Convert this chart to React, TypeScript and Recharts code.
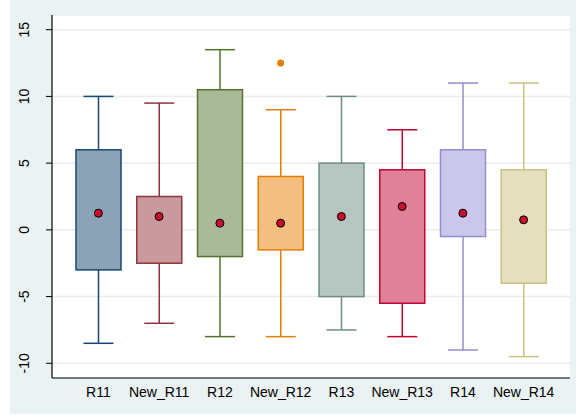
import React from "react";
import {
  ComposedChart,
  Bar,
  Scatter,
  XAxis,
  YAxis,
  CartesianGrid,
} from "recharts";

const categories = ["R11", "New_R11", "R12", "New_R12", "R13", "New_R13", "R14", "New_R14"];
const whiskerLow = [-8.5, -7, -8, -8, -7.5, -8, -9, -9.5];
const q1 = [-3, -2.5, -2, -1.5, -5, -5.5, -0.5, -4];
const q3 = [6, 2.5, 10.5, 4, 5, 4.5, 6, 4.5];
const whiskerHigh = [10, 9.5, 13.5, 9, 10, 7.5, 11, 11];
const means = [1.25, 1, 0.5, 0.5, 1, 1.75, 1.25, 0.75];
const outliers: (number | null)[] = [null, null, null, 12.5, null, null, null, null];
const yTicks = [-10, -5, 0, 5, 10, 15];

const lineColors = ["#1A476F", "#90353B", "#55752F", "#E37E00", "#6E8E84", "#C10534", "#938DD2", "#CAC27E"];
const fillColors = ["#8CA3B7", "#C8999D", "#AAB997", "#F2BF80", "#B7C6C1", "#E0819A", "#CBC7EA", "#E4DFBE"];

const data = categories.map((name, i) => ({
  name,
  box: [q1[i], q3[i]],
  lo: whiskerLow[i],
  hi: whiskerHigh[i],
  q1: q1[i],
  q3: q3[i],
  mean: means[i],
  outlier: outliers[i],
  idx: i,
}));

const FONT = "'Liberation Sans', Arial, sans-serif";

const BoxShape = (props: any) => {
  const { x, y, width, height, payload } = props;
  const top = Math.min(y, y + height);
  const h = Math.abs(height);
  const ppu = h / (payload.q3 - payload.q1);
  const yHi = top - (payload.hi - payload.q3) * ppu;
  const yLo = top + h + (payload.q1 - payload.lo) * ppu;
  const cx = x + width / 2;
  const cap = 15;
  const col = lineColors[payload.idx];
  return (
    <g>
      <line x1={cx} x2={cx} y1={yHi} y2={top} stroke={col} strokeWidth={1.5} />
      <line x1={cx} x2={cx} y1={top + h} y2={yLo} stroke={col} strokeWidth={1.5} />
      <line x1={cx - cap} x2={cx + cap} y1={yHi} y2={yHi} stroke={col} strokeWidth={1.5} />
      <line x1={cx - cap} x2={cx + cap} y1={yLo} y2={yLo} stroke={col} strokeWidth={1.5} />
      <rect x={x} y={top} width={width} height={h} fill={fillColors[payload.idx]} stroke={col} strokeWidth={1.5} />
    </g>
  );
};

const MeanDot = (props: any) => {
  const { cx, cy } = props;
  if (cx == null || cy == null || isNaN(cy)) return <g />;
  return <circle cx={cx} cy={cy} r={4} fill="#C8102E" stroke="#000" strokeWidth={1} />;
};

const OutlierDot = (props: any) => {
  const { cx, cy, payload } = props;
  if (!payload || payload.outlier == null || isNaN(cy)) return <g />;
  return <circle cx={cx} cy={cy} r={3.5} fill={lineColors[payload.idx]} />;
};

const YTick = (props: any) => {
  const { y, payload } = props;
  const lx = 14;
  return (
    <text
      x={lx}
      y={y}
      transform={`rotate(-90, ${lx}, ${y})`}
      textAnchor="middle"
      dominantBaseline="central"
      fontSize={14}
      fontFamily={FONT}
      fill="#000"
    >
      {payload.value}
    </text>
  );
};

export default function App() {
  return (
    <div style={{ position: "absolute", left: 0, top: 0, width: 576, height: 416, background: "#fff" }}>
      <div style={{ position: "absolute", left: 10, top: 0, width: 566, height: 414, background: "#EAF2F3" }}>
        <ComposedChart
          width={566}
          height={414}
          data={data}
          margin={{ top: 15, right: 6, left: 0, bottom: 0 }}
        >
          <CartesianGrid vertical={false} stroke="#E6EEF0" strokeWidth={1.5} fill="#FFFFFF" />
          <XAxis
            dataKey="name"
            height={36}
            padding={{ left: 16, right: 16 }}
            tickLine={false}
            axisLine={{ stroke: "#000", strokeWidth: 1.2 }}
            tickMargin={3}
            tick={{ fontSize: 14, fill: "#000", fontFamily: FONT }}
            interval={0}
          />
          <YAxis
            width={42}
            type="number"
            domain={[-11.1, 16.1]}
            ticks={yTicks}
            allowDataOverflow
            tickSize={6}
            tickLine={{ stroke: "#000" }}
            axisLine={{ stroke: "#000", strokeWidth: 1.2 }}
            tick={<YTick />}
          />
          <Bar dataKey="box" barSize={45} shape={<BoxShape />} isAnimationActive={false} />
          <Scatter dataKey="mean" shape={<MeanDot />} isAnimationActive={false} />
          <Scatter dataKey="outlier" shape={<OutlierDot />} isAnimationActive={false} />
        </ComposedChart>
      </div>
    </div>
  );
}
